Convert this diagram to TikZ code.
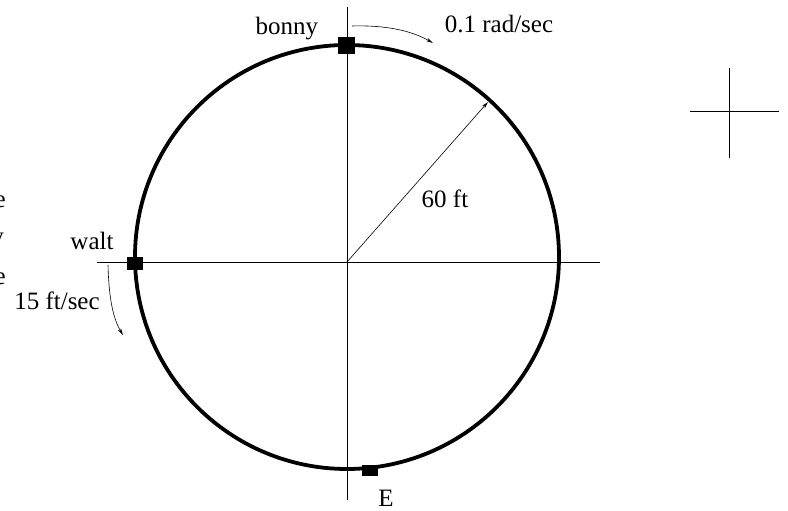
\documentclass[tikz,border=0pt]{standalone}
\usepackage{fontspec}
\setmainfont{Liberation Serif}
\usetikzlibrary{arrows.meta}
\begin{document}
\begin{tikzpicture}[x=1pt,y=1pt,
  axis/.style={line width=0.8pt},
  marker/.style={fill=black,inner sep=0pt},
  pointer/.style={-{Stealth[length=7pt,width=3.5pt]},line width=0.6pt},
  lbl/.style={font=\fontsize{25}{30}\selectfont,inner sep=0pt}]
\path[use as bounding box,clip] (-347,-249) rectangle (441,262);

\draw[axis] (-250,0) -- (253,0);
\draw[axis] (0,255) -- (0,-238);
\draw[line width=3.8pt] (0,5) circle[radius=212pt];

\coordinate (ctr) at (0,0);
\coordinate (rim) at (141,160);
\draw[pointer] (ctr) -- (rim);
\node[lbl,anchor=base] (radius) at (98,54) {60 ft};

\node[marker,minimum width=17pt,minimum height=17pt] (bonnybox) at (0,216) {};
\node[marker,minimum width=16pt,minimum height=13pt] (waltbox) at (-212,-1.5) {};
\node[marker,minimum width=16pt,minimum height=11pt] (ebox) at (23,-209) {};

\node[lbl,anchor=base] (bonny) at (-60,227) {bonny};
\node[lbl,anchor=base] (rate) at (152,229) {0.1 rad/sec};
\node[lbl,anchor=base] (walt) at (-255,12) {walt};
\node[lbl,anchor=base] (speed) at (-290,-48) {15 ft/sec};
\node[lbl,anchor=base] (east) at (39,-245) {E};

\coordinate (bstart) at (5,236);
\coordinate (bend) at (86,219);
\draw[pointer] (bstart) .. controls (40,237) and (65,231) .. (bend);
\coordinate (wstart) at (-239,-3);
\coordinate (wend) at (-224,-73);
\draw[pointer] (wstart) .. controls (-238,-40) and (-233,-58) .. (wend);

% text cut off at the left edge
\node[lbl,anchor=base east] (cuta) at (-341,54) {e};
\node[lbl,anchor=base east] (cutb) at (-343,17) {y};
\node[lbl,anchor=base east] (cutc) at (-341,-23) {e};

% cross on the right
\coordinate (crossw) at (343,151);
\coordinate (crosse) at (432,151);
\coordinate (crossn) at (382,194);
\coordinate (crosss) at (382,104);
\draw[axis] (crossw) -- (crosse);
\draw[axis] (crossn) -- (crosss);
\end{tikzpicture}
\end{document}
